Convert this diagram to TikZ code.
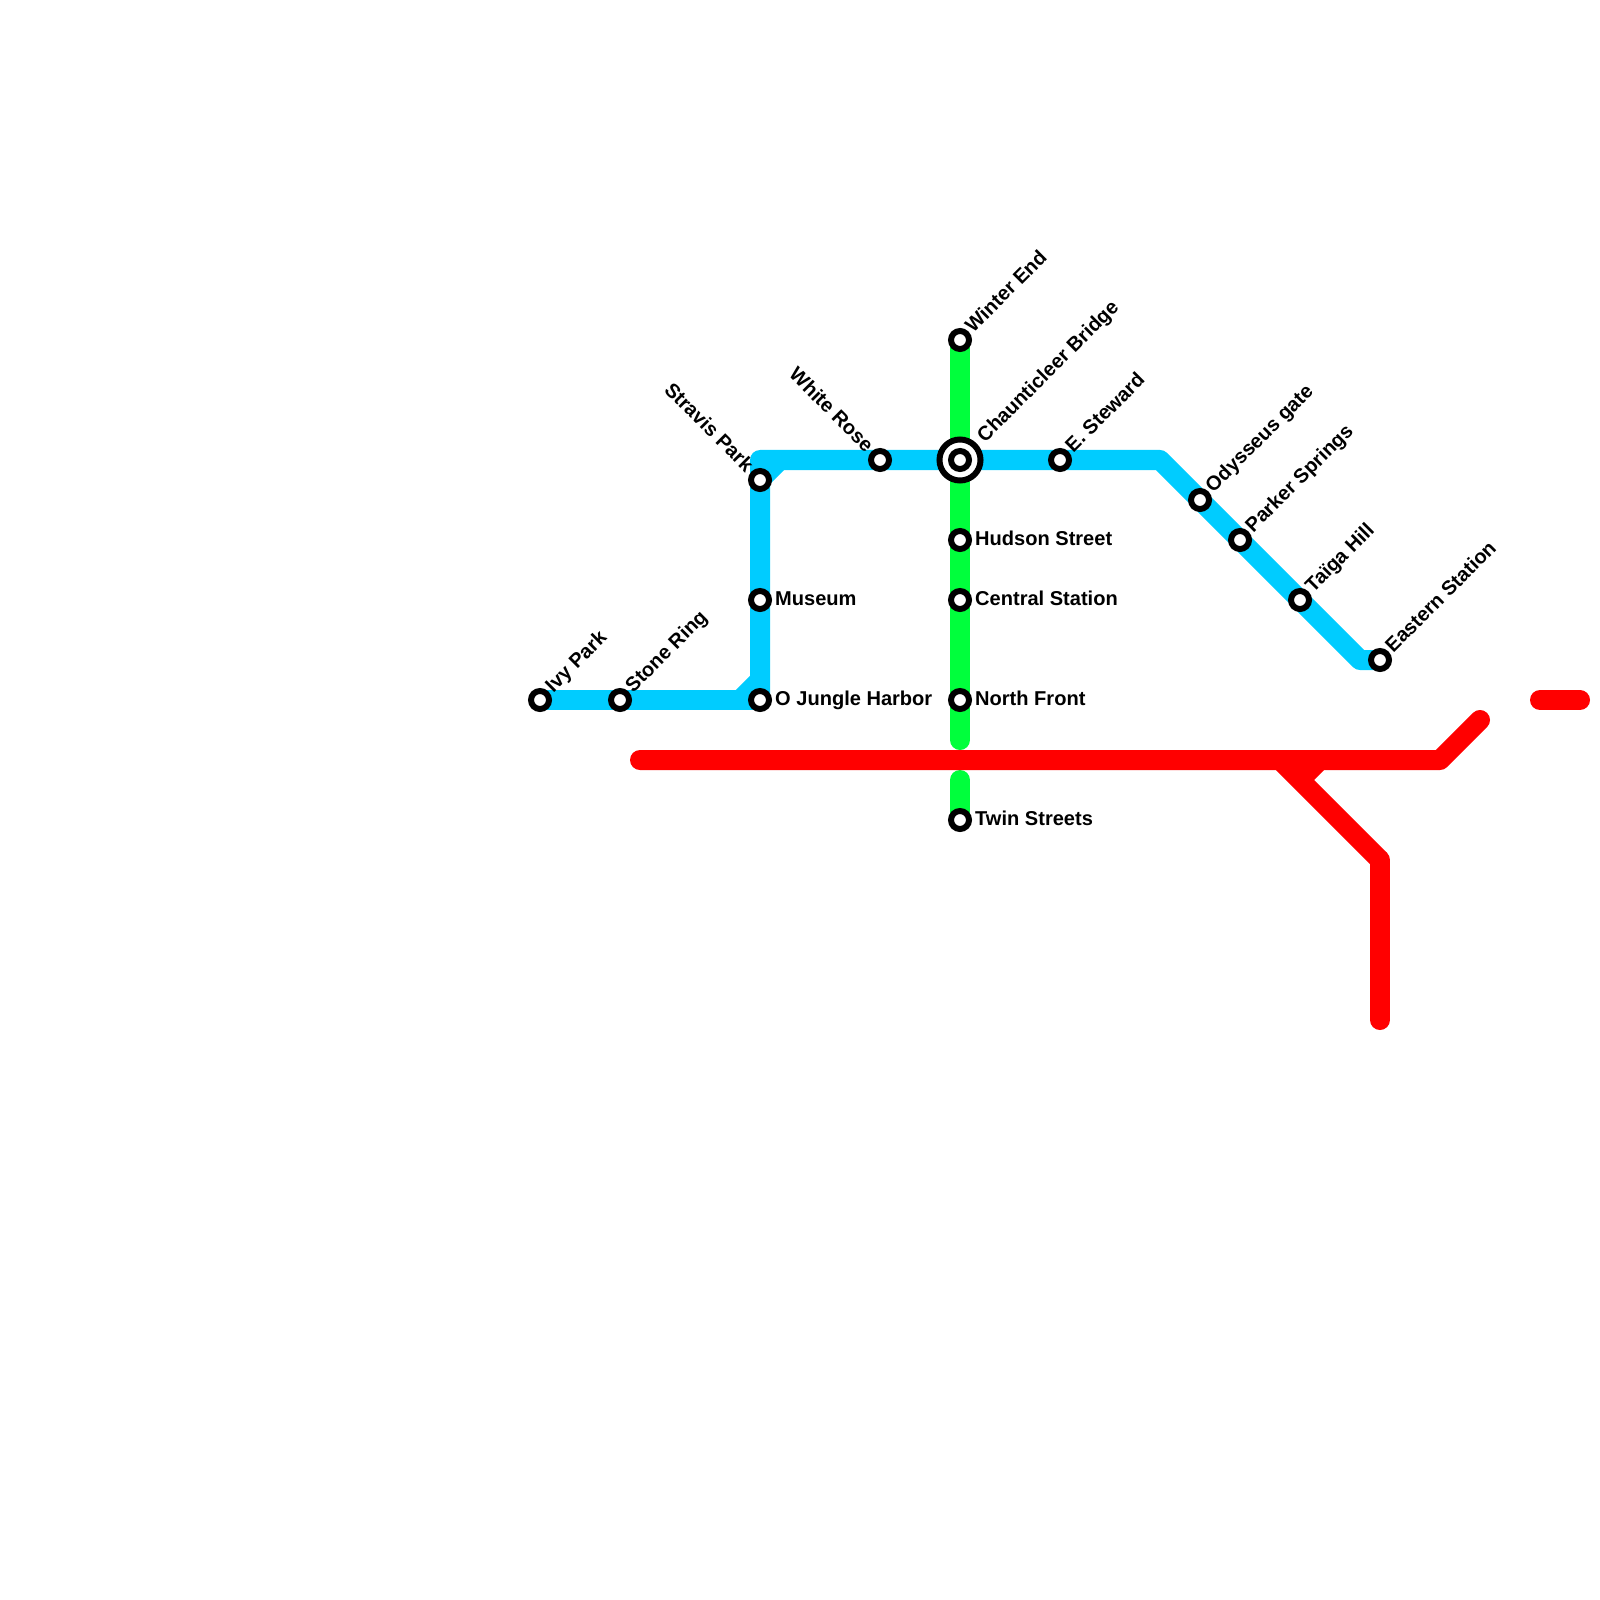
\documentclass[tikz,border=0pt]{standalone}
\usepackage{fontspec}
\setmainfont{Liberation Sans}
\usetikzlibrary{backgrounds}
\definecolor{lineblue}{RGB}{0,204,255}
\definecolor{linegreen}{RGB}{0,255,60}
\definecolor{linered}{RGB}{255,0,0}

\begin{document}
\begin{tikzpicture}[
  x=0.01cm, y=-0.01cm,
  station/.style={draw=black, circle, fill=white, line width=1.7pt, minimum size=0.18cm, inner sep=0pt},
  hub/.style={draw=black, circle, fill=white, line width=1.7pt, minimum size=0.41cm, inner sep=0pt},
  metro/.style={line width=5.69pt, line cap=butt, line join=round},
  stub/.style={metro, line cap=round},
  lbl/.style={font=\fontsize{5.7pt}{6.5pt}\selectfont\bfseries, inner sep=0pt},
  lblright/.style={lbl, anchor=base west, xshift=0.145cm, yshift=-0.05cm},
  lblup/.style={lbl, anchor=base west, rotate=45, shift={(0.134cm,-0.048cm)}},
  lblback/.style={lbl, anchor=base east, rotate=-45, shift={(-0.145cm,-0.055cm)}}
]
\useasboundingbox (0,0) rectangle (1600,1600);

% Stations
\node[station] (ivy) at (540,700) {};
\node[station] (stone) at (620,700) {};
\node[station] (jungle) at (760,700) {};
\node[station] (museum) at (760,600) {};
\node[station] (stravis) at (760,480) {};
\node[station] (rose) at (880,460) {};
\node[hub] (chauntring) at (960,460) {};
\node[station] (chaunt) at (960,460) {};
\node[station] (steward) at (1060,460) {};
\node[station] (odysseus) at (1200,500) {};
\node[station] (parker) at (1240,540) {};
\node[station] (taiga) at (1300,600) {};
\node[station] (eastern) at (1380,660) {};
\node[station] (winter) at (960,340) {};
\node[station] (hudson) at (960,540) {};
\node[station] (central) at (960,600) {};
\node[station] (north) at (960,700) {};
\node[station] (twin) at (960,820) {};

% Bends and free ends
\coordinate (topleft) at (760,460);
\coordinate (topright) at (1160,460);
\coordinate (lowright) at (1360,660);
\coordinate (stubjungle) at (740,700);
\coordinate (stubjungleup) at (760,680);
\coordinate (stubstravis) at (780,460);
\coordinate (greenend) at (960,740);
\coordinate (greenstart) at (960,780);
\coordinate (redwest) at (640,760);
\coordinate (redbend) at (1440,760);
\coordinate (redeast) at (1480,720);
\coordinate (forkstart) at (1280,760);
\coordinate (forkbend) at (1380,860);
\coordinate (forkend) at (1380,1020);
\coordinate (forkstuba) at (1320,760);
\coordinate (forkstubb) at (1300,780);
\coordinate (dashwest) at (1540,700);
\coordinate (dasheast) at (1580,700);

\begin{scope}[on background layer]
  % Green line
  \draw[stub, linegreen] (winter.center) -- (greenend);
  \draw[stub, linegreen] (greenstart) -- (twin.center);
  % Blue line
  \draw[metro, lineblue] (ivy.center) -- (jungle.center);
  \draw[metro, lineblue] (jungle.center) -- (topleft) -- (topright) -- (lowright) -- (eastern.center);
  \draw[metro, lineblue] (stubjungle) -- (stubjungleup);
  \draw[metro, lineblue] (stravis.center) -- (stubstravis);
  % Red line
  \draw[stub, linered] (redwest) -- (redbend) -- (redeast);
  \draw[metro, linered] (forkstart) -- (forkbend);
  \draw[stub, linered] (forkbend) -- (forkend);
  \draw[metro, linered] (forkstuba) -- (forkstubb);
  \draw[stub, linered] (dashwest) -- (dasheast);
\end{scope}

% Labels
\node[lblup] (ivylbl) at (ivy) {Ivy Park};
\node[lblup] (stonelbl) at (stone) {Stone Ring};
\node[lblright] (junglelbl) at (jungle) {O Jungle Harbor};
\node[lblright] (museumlbl) at (museum) {Museum};
\node[lblback] (stravislbl) at (stravis) {Stravis Park};
\node[lblback] (roselbl) at (rose) {White Rose};
\node[lblup, shift={(0.155cm,-0.01cm)}] (chauntlbl) at (chaunt) {Chaunticleer Bridge};
\node[lblup] (stewardlbl) at (steward) {E. Steward};
\node[lblup] (odysseuslbl) at (odysseus) {Odysseus gate};
\node[lblup] (parkerlbl) at (parker) {Parker Springs};
\node[lblup] (taigalbl) at (taiga) {Taïga Hill};
\node[lblup] (easternlbl) at (eastern) {Eastern Station};
\node[lblup] (winterlbl) at (winter) {Winter End};
\node[lblright] (hudsonlbl) at (hudson) {Hudson Street};
\node[lblright] (centrallbl) at (central) {Central Station};
\node[lblright] (northlbl) at (north) {North Front};
\node[lblright] (twinlbl) at (twin) {Twin Streets};

\end{tikzpicture}
\end{document}
